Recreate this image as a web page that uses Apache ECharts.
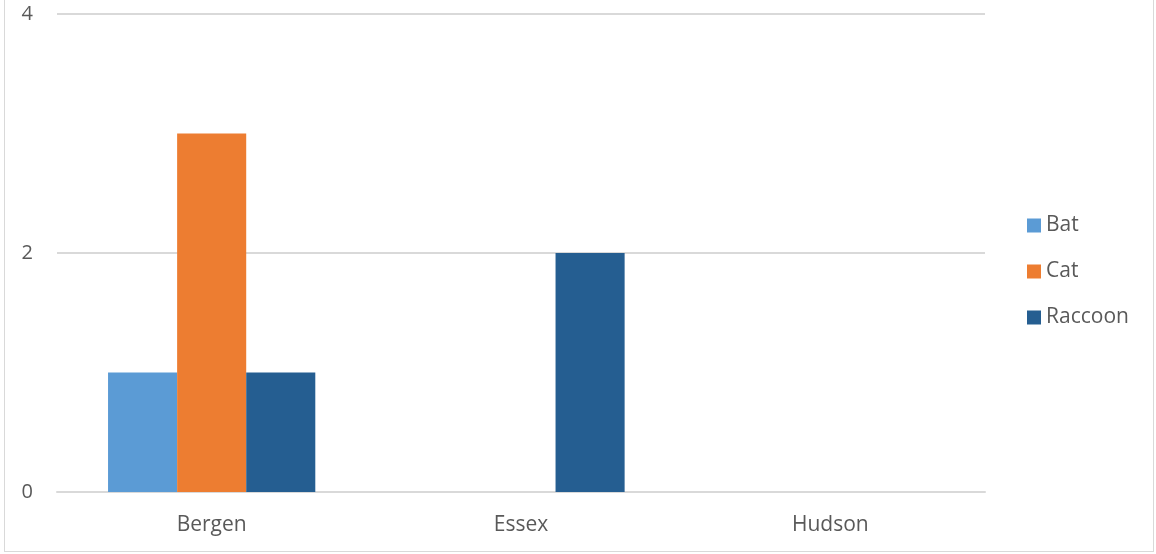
<!DOCTYPE html>
<html>
<head>
<meta charset="utf-8">
<script src="https://cdn.jsdelivr.net/npm/echarts@6/dist/echarts.min.js"></script>
<style>
html,body{margin:0;padding:0;background:#fff;}
#wrap{position:relative;width:1156px;height:554px;}
#border{position:absolute;left:4px;top:-2px;width:1150px;height:554px;border:1px solid #d9d9d9;box-sizing:border-box;}
#chart{position:absolute;left:0;top:0;width:1156px;height:554px;}
</style>
</head>
<body>
<div id="wrap"><div id="border"></div><div id="chart"></div></div>
<script>
const categories = ['Bergen', 'Essex', 'Hudson'];
const seriesNames = ['Bat', 'Cat', 'Raccoon'];
const batValues = [1, 0, 0];
const catValues = [3, 0, 0];
const raccoonValues = [1, 2, 0];
const yTicks = [0, 2, 4];
const colors = ['#5b9bd5', '#ed7d31', '#255e91'];

const font = '"Open Sans", "Noto Sans", sans-serif';
const chart = echarts.init(document.getElementById('chart'));
const values = [batValues, catValues, raccoonValues];
chart.setOption({
  animation: false,
  textStyle: {fontFamily: font},
  grid: {left: 57, right: 171, top: 14, bottom: 62, containLabel: false},
  legend: {
    orient: 'vertical', left: 1022, top: 210,
    itemWidth: 14, itemHeight: 14, itemGap: 25,
    icon: 'rect',
    data: seriesNames,
    textStyle: {fontSize: 21, color: '#595959', fontFamily: font}
  },
  xAxis: {
    type: 'category', data: categories,
    axisLine: {show: true, lineStyle: {color: '#d9d9d9', width: 2}},
    axisTick: {show: false},
    axisLabel: {fontSize: 21, color: '#595959', margin: 23, fontFamily: font}
  },
  yAxis: {
    type: 'value', min: yTicks[0], max: yTicks[yTicks.length-1], interval: 2,
    axisLine: {show: false}, axisTick: {show: false},
    splitLine: {lineStyle: {color: '#d9d9d9', width: 2}},
    axisLabel: {fontSize: 20, color: '#595959', margin: 24, fontFamily: font}
  },
  series: seriesNames.map((n, i) => ({
    name: n, type: 'bar', data: values[i],
    barGap: '0%', barCategoryGap: '33%',
    itemStyle: {color: colors[i]}
  }))
});
</script>
</body>
</html>
